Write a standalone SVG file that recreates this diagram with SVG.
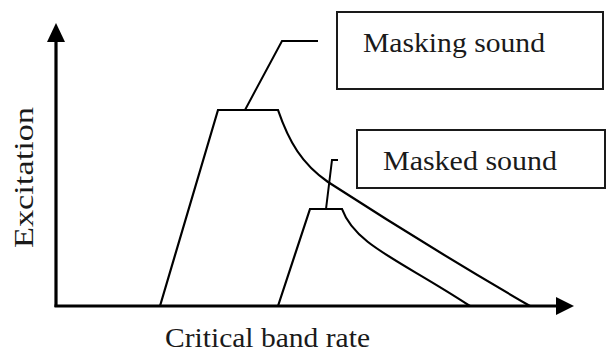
<svg xmlns="http://www.w3.org/2000/svg" width="607" height="353" viewBox="0 0 607 353">
  <style>
    .lbl { font-family: "Liberation Serif", "Times New Roman", serif; font-size: 27px; fill: #1a1a1a; }
    .box { fill: #ffffff; stroke: #1a1a1a; stroke-width: 2; }
    .curve { fill: none; stroke: #000; stroke-width: 2.2; stroke-linejoin: miter; }
    .axis { stroke: #000; stroke-width: 3.2; fill: none; }
    .lead { fill: none; stroke: #000; stroke-width: 2; }
  </style>
  <rect width="607" height="353" fill="#ffffff"/>

  <g id="axes">
    <line class="axis" x1="56" y1="307" x2="56" y2="38"/>
    <polygon points="56,23 47,42 65,42" fill="#000"/>
    <line class="axis" x1="54.5" y1="306" x2="560" y2="306"/>
    <polygon points="574,306 556,297 556,315" fill="#000"/>
    <text class="lbl" transform="translate(33,248) rotate(-90)" textLength="141" lengthAdjust="spacingAndGlyphs">Excitation</text>
    <text class="lbl" x="165" y="347" textLength="205" lengthAdjust="spacingAndGlyphs">Critical band rate</text>
  </g>

  <g id="masking-curve">
    <path class="curve" d="M160,306 L218,110 L278,110 C289,142 302,164 328,182 Q430,248 530,306"/>
  </g>

  <g id="masked-curve">
    <path class="curve" d="M278,306 L310,209 L342,209 C355,245 400,260 470,306"/>
  </g>

  <g id="masking-sound">
    <rect class="box" x="337" y="12" width="266" height="77"/>
    <text class="lbl" x="363" y="52" textLength="182" lengthAdjust="spacingAndGlyphs">Masking sound</text>
  </g>

  <g id="masked-sound">
    <rect class="box" x="357" y="130" width="248" height="58"/>
    <text class="lbl" x="383" y="170" textLength="174" lengthAdjust="spacingAndGlyphs">Masked sound</text>
  </g>

  <g id="connectors">
    <polyline class="lead" points="245,110 282,41 318,41"/>
    <polyline class="lead" points="326,209 332,160 338,160"/>
  </g>
</svg>
